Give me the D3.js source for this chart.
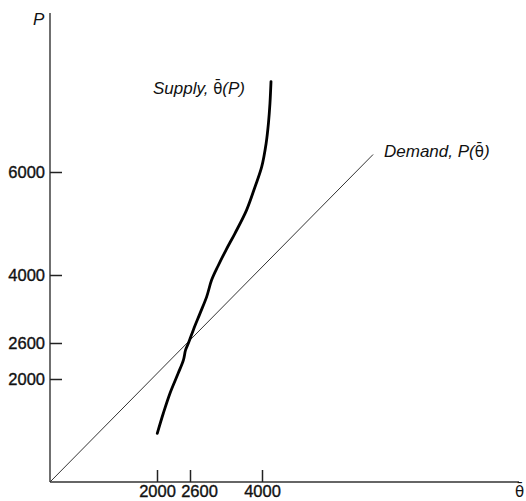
<!DOCTYPE html>
<html>
<head>
<meta charset="utf-8">
<script src="https://cdn.jsdelivr.net/npm/d3@7"></script>
<style>
  body { margin: 0; background: #fff; }
  svg { display: block; font-family: 'Liberation Sans', Arial, sans-serif; }
  .tick text { font-size: 16.5px; fill: #111; stroke: #111; stroke-width: 0.35px; }
  .tick line { stroke: #222; stroke-width: 1.5px; }
  .axis-line { stroke: #333; stroke-width: 1.4px; }
  .demand { fill: none; stroke: #333; stroke-width: 1px; }
  .supply { fill: none; stroke: #000; stroke-width: 2.8px; stroke-linecap: round; }
  .label { font-size: 17px; font-style: italic; fill: #111; }
  .label .up { font-style: normal; font-family: 'DejaVu Sans', sans-serif; font-size: 15px; }
</style>
</head>
<body>
<svg id="chart" width="526" height="501"></svg>
<script>
var X_TICKS = [2000, 2600, 4000],
    Y_TICKS = [2000, 2600, 4000, 6000],

    // the hand drawn axes are not quite even, so the scales go through the tick marks
    X_KNOTS = [0, 2000, 2600, 4000],
    Y_KNOTS = [0, 2000, 2600, 4000, 6000],

    // supply curve theta-bar(P)
    SUPPLY_THETA = [2005, 2115, 2235, 2385, 2480, 2520, 2570, 2665, 2795, 2925, 3020, 3145, 3300, 3475, 3700, 3865, 3995, 4080, 4125, 4155, 4175],
    SUPPLY_P     = [ 945, 1335, 1720, 2095, 2315, 2485, 2595, 2870, 3210, 3555, 3895, 4175, 4485, 4810, 5260, 5715, 6105, 6555, 6945, 7335, 7755],

    // demand P(theta-bar), a straight line from the origin
    DEMAND_THETA = [0, 6160],
    DEMAND_P     = [0, 6340];

var svg = d3.select('#chart'),
    width = +svg.attr('width'),

    x = d3.scaleLinear()
      .domain(X_KNOTS)
      .range([50, 157, 190, 262]),

    y = d3.scaleLinear()
      .domain(Y_KNOTS)
      .range([482, 379, 343, 275, 172]),

    zip = function(a, b) {
      return a.map(function(v, i) { return [v, b[i]]; });
    },

    line = d3.line()
      .x(function(d) { return x(d[0]); })
      .y(function(d) { return y(d[1]); }),

    // upright theta with a combining macron (DejaVu places the mark properly)
    thetaBar = function(text) {
      text.append('tspan').attr('class', 'up').text('\u03B8\u0304');
    };

// axes
svg.append('line')
  .attr('class', 'axis-line')
  .attr('x1', x(0)).attr('x2', x(0))
  .attr('y1', y(0)).attr('y2', 13);

svg.append('line')
  .attr('class', 'axis-line')
  .attr('x1', x(0)).attr('x2', width - 7)
  .attr('y1', y(0)).attr('y2', y(0));

var yAxis = svg.append('g')
  .attr('transform', 'translate(' + x(0) + ',0)')
  .call(d3.axisLeft(y)
    .tickValues(Y_TICKS)
    .tickFormat(d3.format('d'))
    .tickSizeInner(-12)
    .tickSizeOuter(0)
    .tickPadding(5));

var xAxis = svg.append('g')
  .attr('transform', 'translate(0,' + y(0) + ')')
  .call(d3.axisBottom(x)
    .tickValues(X_TICKS)
    .tickFormat(d3.format('d'))
    .tickSizeInner(-12)
    .tickSizeOuter(0)
    .tickPadding(3));

yAxis.select('.domain').remove();
xAxis.select('.domain').remove();
svg.selectAll('.tick text').attr('font-family', null).attr('font-size', null);

// 2600 is pushed right so it does not run into 2000
xAxis.selectAll('.tick text')
  .attr('dx', function(d) { return d === 2600 ? 9 : 0; });

// curves
svg.append('path')
  .datum(zip(DEMAND_THETA, DEMAND_P))
  .attr('class', 'demand')
  .attr('d', line);

svg.append('path')
  .datum(zip(SUPPLY_THETA, SUPPLY_P))
  .attr('class', 'supply')
  .attr('d', line.curve(d3.curveCatmullRom));

// labels
var supplyLabel = svg.append('text')
  .attr('class', 'label')
  .attr('x', 153)
  .attr('y', 94);
supplyLabel.append('tspan').text('Supply, ');
thetaBar(supplyLabel);
supplyLabel.append('tspan').text('(P)');

var demandLabel = svg.append('text')
  .attr('class', 'label')
  .attr('x', 384)
  .attr('y', 157);
demandLabel.append('tspan').text('Demand, P(');
thetaBar(demandLabel);
demandLabel.append('tspan').text(')');

svg.append('text')
  .attr('class', 'label')
  .attr('x', 33)
  .attr('y', 25)
  .text('P');

var axisTheta = svg.append('text')
  .attr('class', 'label')
  .attr('x', 515)
  .attr('y', 497);
thetaBar(axisTheta);
</script>
</body>
</html>
